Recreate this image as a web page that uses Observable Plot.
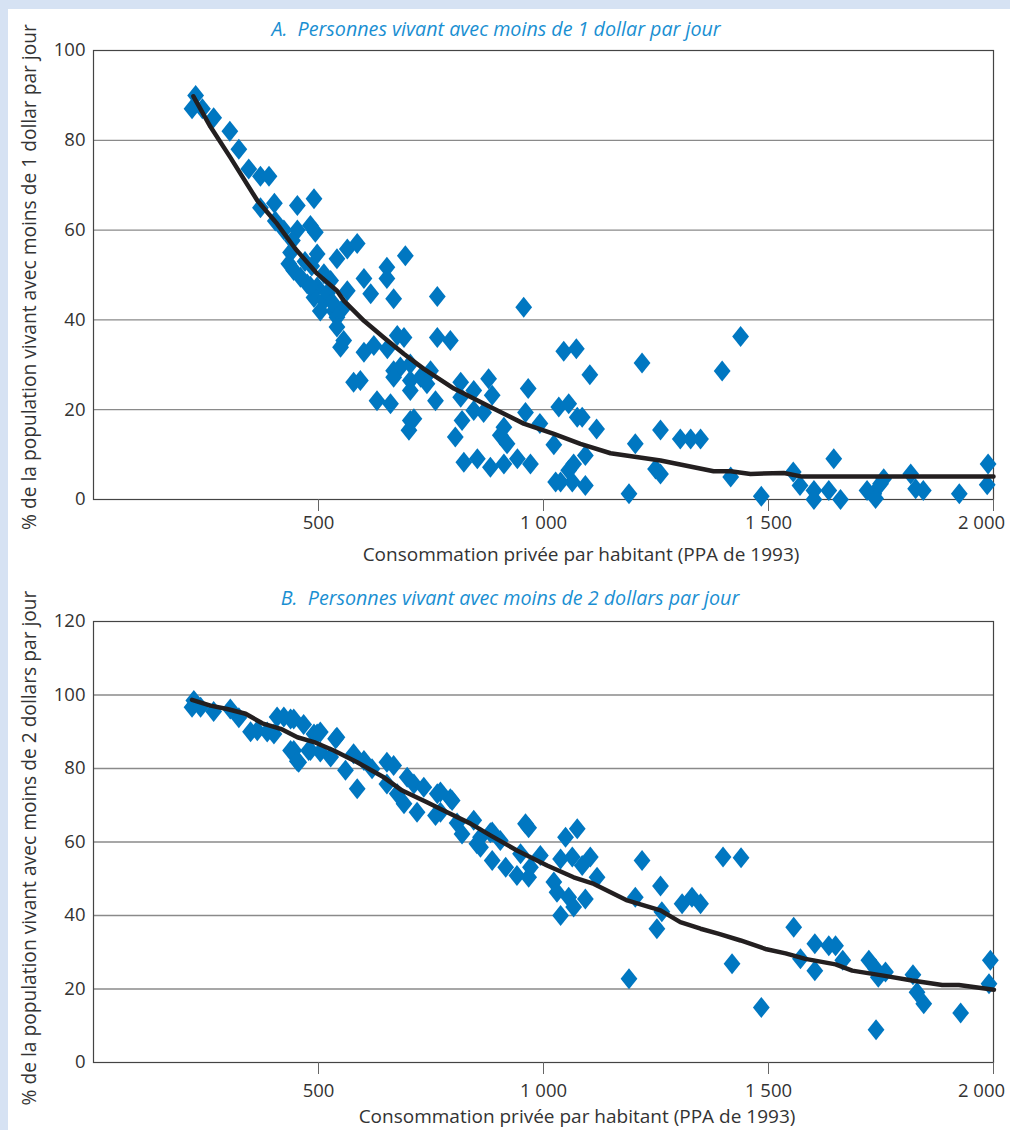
<!DOCTYPE html>
<html><head><meta charset="utf-8">
<script src="https://cdn.jsdelivr.net/npm/d3@7"></script>
<script src="https://cdn.jsdelivr.net/npm/@observablehq/plot@0.6"></script>
<style>
body{margin:0;}
#page{position:relative;width:1010px;height:1130px;background:#d6e2f3;overflow:hidden;font-family:"Open Sans",sans-serif;}
#panel{position:absolute;left:8px;top:9px;right:0;bottom:0;background:#fff;}
#a,#b{position:absolute;left:0;}
#a{top:0;} #b{top:565px;}
#overlay{position:absolute;left:0;top:0;}
#overlay text{white-space:pre;}
</style></head>
<body>
<div id="page"><div id="panel"></div><div id="a"></div><div id="b"></div>
<svg id="overlay" width="1010" height="1130"></svg></div>
<script>
// ---- Panel A data: < 1 dollar per day ----
const aX = [219,227,242,267,303,323,345,371,390,371,402,404,423,453,490,453,482,493,442,438,434,445,460,497,541,564,586,693,512,475,497,527,601,652,652,667,616,764,564,490,512,504,534,556,541,541,556,549,601,623,653,675,690,764,793,956,667,682,704,667,704,727,741,704,749,578,593,630,660,760,704,712,701,816,816,845,845,867,878,886,819,804,912,904,919,966,960,992,1023,823,853,882,912,942,971,1027,1038,1064,1093,1034,1056,1075,1086,1045,1073,1067,1056,1093,1103,1118,1190,1204,1219,1260,1249,1260,1304,1327,1349,1397,1438,1416,1484,1555,1570,1601,1601,1634,1645,1660,1719,1734,1738,1749,1756,1816,1827,1844,1924,1988,1986,470,485,520,530,482];
const aY = [87,90,87,85,82,78,73.6,72,72,65,66,62,60,65.5,67,60,61,59.5,57.7,55,52.5,51,49.5,54.7,53.6,55.8,57,54.3,50.3,48,47.3,48.8,49.2,51.7,49.2,44.7,45.8,45.2,46.5,45,44.3,42,42,42.8,40.6,38.4,35.4,33.9,32.8,34.3,33.6,36.5,36.1,36.1,35.4,42.8,28.7,29.5,30.2,27.2,26.5,27.2,25.8,24.3,28.7,26.1,26.5,22,21.3,22,17.6,18,15.4,26.1,22.8,24.3,19.8,19.4,26.9,23.2,17.6,13.9,16.1,14.3,12.4,24.7,19.4,16.9,12.2,8.3,9.1,7.2,7.9,9.1,7.9,3.9,3.9,3.9,3.1,20.6,21.3,18.3,18.3,33,33.6,7.9,6.5,9.8,27.8,15.7,1.3,12.4,30.4,15.5,6.8,5.7,13.5,13.5,13.5,28.6,36.3,5,0.7,6.1,3.1,2,0,2,9.1,0,2,1.3,0.2,3.5,4.6,5.7,2.4,2,1.3,7.9,3.3,53,52,46,44,47.5];
const aCurveX = [222,260,304,364,408,449,497,541,556,601,645,690,734,801,882,956,1023,1082,1149,1260,1378,1416,1460,1534,1575,1645,2000];
const aCurveY = [89.8,83,76.2,66.6,61.4,55.8,50.3,46.5,44.3,39.8,36.1,32.4,29.1,24.7,20.6,16.9,14.6,12.4,10.3,8.7,6.3,6.3,5.7,5.9,5.1,5.1,5.1];
const aYTicks = [0,20,40,60,80,100];

// ---- Panel B data: < 2 dollars per day ----
const bX = [223,219,238,267,304,323,349,364,386,401,408,423,438,445,467,490,497,504,445,438,456,453,478,482,504,527,538,541,560,578,601,619,586,652,667,652,675,697,712,734,690,719,764,760,793,771,797,771,808,845,819,886,860,852,882,904,860,886,916,941,967,960,967,949,993,971,1023,1030,1038,1064,1086,1104,1049,1075,1056,1067,1093,1119,1038,1204,1219,1260,1263,1252,1308,1330,1349,1399,1439,1190,1419,1484,1556,1571,1603,1603,1634,1649,1665,1723,1738,1744,1760,1739,1821,1830,1845,1927,1993,1990];
const bY = [98.5,96.7,96.7,95.5,96.2,93.8,90,90.3,89.9,89.4,94,94,93.5,93.5,92,89.4,89.4,89.9,84.9,84.9,81.7,82,84.9,84.9,84.5,83.1,88.1,88.5,79.5,84,82.2,79.9,74.5,81.7,80.8,75.8,73.1,77.6,75.8,74.9,70.4,68.1,73.1,67.2,71.8,73.6,71.3,68.1,65.2,65.9,62.2,62.7,61.3,59.5,62.5,60.4,58.6,55,53.1,50.9,50.4,65,63.9,56.8,56.3,53.1,49.1,46.3,55.4,55.9,53.6,55.9,61.3,63.6,45,42.3,44.5,50.4,40,45,55,48,41,36.4,43.2,45,43.2,55.9,55.7,22.8,26.9,15,36.8,28.2,32.3,25,31.8,31.8,27.8,27.8,25.5,23.2,24.6,8.9,23.9,19.1,16,13.5,27.8,21.4];
const bCurveX = [219,260,297,338,375,416,453,490,534,586,645,686,741,786,838,882,941,1008,1067,1112,1186,1260,1304,1349,1390,1438,1493,1538,1582,1649,1686,1752,1819,1886,1923,2001];
const bCurveY = [98.7,97.1,96.2,94.9,92.3,90.8,88.5,87.2,84.9,81.7,77.6,74,70.8,68.1,65,61.8,57.7,53.6,50.4,48.6,44.1,41.4,38.2,36.4,35,33.2,30.9,29.7,28.2,26.7,25,23.7,22.3,21.1,21.1,19.8];
const bYTicks = [0,20,40,60,80,100,120];

const xTicks = [500,1000,1500,2000];
const titleA = "A.  Personnes vivant avec moins de 1 dollar par jour";
const titleB = "B.  Personnes vivant avec moins de 2 dollars par jour";
const yLabelA = "% de la population vivant avec moins de 1 dollar par jour";
const yLabelB = "% de la population vivant avec moins de 2 dollars par jour";
const xLabel = "Consommation privée par habitant (PPA de 1993)";

const FONT = "'Open Sans', sans-serif";
const fmt = d => d3.format(",")(d).replace(/,/g, "\u00a0");
const diamond = {draw(ctx, size){ const s = Math.sqrt(size/Math.PI); const h = s, w = s*0.8;
  ctx.moveTo(0,-h); ctx.lineTo(w,0); ctx.lineTo(0,h); ctx.lineTo(-w,0); ctx.closePath(); }};
const BLUE = "#0077c1", INK = "#231f20", TXT = "#333";

function panel(xs, ys, cx, cy, yDomain, yTicks, mt, mb, pad){
  const pts = xs.map((x,i)=>({x, y: ys[i]}));
  const curve = cx.map((x,i)=>({x, y: cy[i]}));
  return Plot.plot({
    width: 1010, height: 565, marginLeft: 93, marginRight: 17, marginTop: mt, marginBottom: mb,
    x: {domain: [0,2000]}, y: {domain: yDomain},
    style: {background: "transparent", fontFamily: FONT, fontSize: "18.5px", color: TXT, overflow: "visible"},
    marks: [
      Plot.ruleY(yTicks.slice(1,-1), {stroke: "#8a8a8a", strokeWidth: 1.3}),
      Plot.frame({stroke: "#444", strokeWidth: 1.2}),
      Plot.axisY(yTicks, {tickSize: 0, tickPadding: 8, label: null, fontSize: 18.5}),
      Plot.axisX(xTicks, {tickSize: 12, tickPadding: pad, label: null, stroke: "#666", fontSize: 18.5,
        tickFormat: d => d === 2000 ? "" : fmt(d)}),
      Plot.axisX([2000], {tickSize: 0, tickPadding: pad + 12, label: null, fontSize: 18.5, dx: -12, tickFormat: fmt}),
      Plot.dot(pts, {x: "x", y: "y", symbol: diamond, r: 10.5, fill: BLUE, stroke: "none"}),
      Plot.line(curve, {x: "x", y: "y", stroke: INK, strokeWidth: 4.5})
    ]
  });
}
document.getElementById("a").append(panel(aX, aY, aCurveX, aCurveY, [0,100], aYTicks, 50, 66, 4));
document.getElementById("b").append(panel(bX, bY, bCurveX, bCurveY, [0,120], bYTicks, 56, 68, 9));

// ---- text overlay ----
const ov = d3.select("#overlay").style("font-family", FONT);
function t(x, y, s, o = {}){
  const e = ov.append("text").attr("x", x).attr("y", y).attr("text-anchor", "middle")
    .attr("font-size", o.size || 18).attr("fill", o.fill || TXT).text(s);
  if (o.italic) e.attr("font-style", "italic");
  if (o.rot) e.attr("transform", `rotate(-90 ${x} ${y})`);
  return e;
}
t(496, 36, titleA, {italic: true, fill: "#1a8fd2", size: 19.7});
t(510, 605, titleB, {italic: true, fill: "#1a8fd2", size: 19.7});
t(581, 561, xLabel, {size: 19});
t(577, 1123, xLabel, {size: 19});
t(36, 277, yLabelA, {rot: true, size: 19.2});
t(36, 848, yLabelB, {rot: true, size: 19.2});
</script>
</body></html>
